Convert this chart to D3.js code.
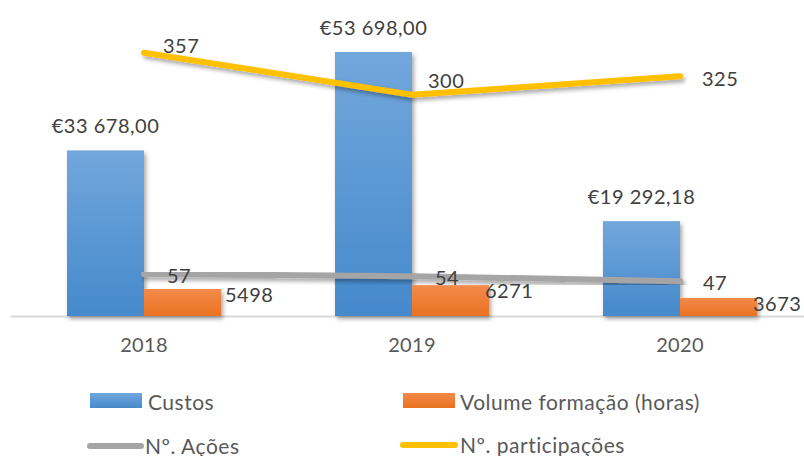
<!DOCTYPE html>
<html>
<head>
<meta charset="utf-8">
<script src="https://cdn.jsdelivr.net/npm/d3@7"></script>
<style>
  body { margin: 0; background: #fff; }
  text { font-family: Lato, "Open Sans", sans-serif; }
  .lbl { font-size: 20px; fill: #404040; letter-spacing: 0.5px; }
  .axis text { font-size: 20px; fill: #595959; letter-spacing: 0.3px; }
  .axis path { stroke: #d9d9d9; stroke-width: 2; }
  .leg { font-size: 21px; fill: #595959; letter-spacing: 0.5px; }
</style>
</head>
<body>
<div id="chart"></div>
<script>
var years = ['2018', '2019', '2020']
var custos = [33678.00, 53698.00, 19292.18]
var volume = [5498, 6271, 3673]
var acoes = [57, 54, 47]
var participacoes = [357, 300, 325]

// hand-placed label nudges, as in the original
var volDx = [4, -4, -4]
var partDx = [19, 16, 22]
var partDy = [-8, -15, 2]

var W = 804, H = 456
var svg = d3.select('#chart').append('svg').attr('width', W).attr('height', H)

var defs = svg.append('defs')
var f = defs.append('filter').attr('id', 'shadow').attr('x', '-20%').attr('y', '-20%').attr('width', '140%').attr('height', '160%')
f.append('feDropShadow').attr('dx', 2).attr('dy', 3).attr('stdDeviation', 2).attr('flood-color', '#000').attr('flood-opacity', 0.35)

function grad(id, c1, c2) {
  var g = defs.append('linearGradient').attr('id', id).attr('x1', 0).attr('y1', 0).attr('x2', 0).attr('y2', 1)
  g.append('stop').attr('offset', '0%').attr('stop-color', c1)
  g.append('stop').attr('offset', '100%').attr('stop-color', c2)
}
grad('gBlue', '#72a7dc', '#4589cc')
grad('gOrange', '#f38a4b', '#ea7220')

var x0 = d3.scaleBand().domain(years).range([10, 814])
var x1 = d3.scaleBand().domain(['c', 'v']).range([57, 211])
var y = d3.scaleLinear().domain([0, 60000]).range([316, 21])
var y2 = d3.scaleLinear().domain([0, 400]).range([316, 21])
var cx = function(i) { return x0(years[i]) + x0.bandwidth() / 2 }

var fmtEur = function(v) {
  var s = d3.format(',.2f')(v)
  return '€' + s.replace(/,/g, ' ').replace('.', ',')
}

// axis
var ax = svg.append('g').attr('class', 'axis').attr('transform', 'translate(0,316)')
  .call(d3.axisBottom(x0).tickSize(0).tickPadding(22))
ax.selectAll('.tick line').remove()

// bars
var bars = svg.append('g').attr('filter', 'url(#shadow)')
bars.selectAll('rect.c').data(custos).join('rect')
  .attr('x', (d, i) => x0(years[i]) + x1('c'))
  .attr('y', d => y(d))
  .attr('width', x1.bandwidth())
  .attr('height', d => y(0) - y(d))
  .attr('fill', 'url(#gBlue)')
bars.selectAll('rect.v').data(volume).join('rect')
  .attr('x', (d, i) => x0(years[i]) + x1('v'))
  .attr('y', d => y(d))
  .attr('width', x1.bandwidth())
  .attr('height', d => y(0) - y(d))
  .attr('fill', 'url(#gOrange)')

// lines
var line = d3.line().x((d, i) => cx(i)).y(d => y2(d))
svg.append('path').attr('d', line(acoes))
  .attr('fill', 'none').attr('stroke', '#a5a5a5').attr('stroke-width', 6)
  .attr('stroke-linecap', 'round').attr('stroke-linejoin', 'round').attr('filter', 'url(#shadow)')
svg.append('path').attr('d', line(participacoes))
  .attr('fill', 'none').attr('stroke', '#ffc000').attr('stroke-width', 6)
  .attr('stroke-linecap', 'round').attr('stroke-linejoin', 'round').attr('filter', 'url(#shadow)')

// labels
svg.selectAll('text.lc').data(custos).join('text').attr('class', 'lbl')
  .attr('x', (d, i) => x0(years[i]) + x1('c') + x1.bandwidth() / 2)
  .attr('y', d => y(d) - 17)
  .attr('text-anchor', 'middle')
  .text(d => fmtEur(d))
svg.selectAll('text.lv').data(volume).join('text').attr('class', 'lbl')
  .attr('x', (d, i) => x0(years[i]) + x1('v') + x1.bandwidth() + volDx[i])
  .attr('y', d => y(d) + 5)
  .attr('dominant-baseline', 'central')
  .text(d => d)
svg.selectAll('text.la').data(acoes).join('text').attr('class', 'lbl')
  .attr('x', (d, i) => cx(i) + 23)
  .attr('y', d => y2(d) + 1)
  .attr('dominant-baseline', 'central')
  .text(d => d)
svg.selectAll('text.lp').data(participacoes).join('text').attr('class', 'lbl')
  .attr('x', (d, i) => cx(i) + partDx[i])
  .attr('y', (d, i) => y2(d) + partDy[i])
  .attr('dominant-baseline', 'central')
  .text(d => d)

// legend
var leg = svg.append('g')
leg.append('rect').attr('x', 90).attr('y', 393).attr('width', 52).attr('height', 15).attr('fill', 'url(#gBlue)')
leg.append('text').attr('class', 'leg').attr('x', 148).attr('y', 401).attr('dominant-baseline', 'central').text('Custos')
leg.append('rect').attr('x', 403).attr('y', 393).attr('width', 52).attr('height', 15).attr('fill', 'url(#gOrange)')
leg.append('text').attr('class', 'leg').attr('x', 460).attr('y', 401).attr('dominant-baseline', 'central').text('Volume formação (horas)')
leg.append('line').attr('x1', 90).attr('x2', 141).attr('y1', 446).attr('y2', 446)
  .attr('stroke', '#a5a5a5').attr('stroke-width', 6).attr('stroke-linecap', 'round')
leg.append('text').attr('class', 'leg').attr('x', 145).attr('y', 445).attr('dominant-baseline', 'central').text('Nº. Ações')
leg.append('line').attr('x1', 403).attr('x2', 455).attr('y1', 445).attr('y2', 445)
  .attr('stroke', '#ffc000').attr('stroke-width', 6).attr('stroke-linecap', 'round')
leg.append('text').attr('class', 'leg').attr('x', 460).attr('y', 444).attr('dominant-baseline', 'central').text('Nº. participações')
</script>
</body>
</html>
